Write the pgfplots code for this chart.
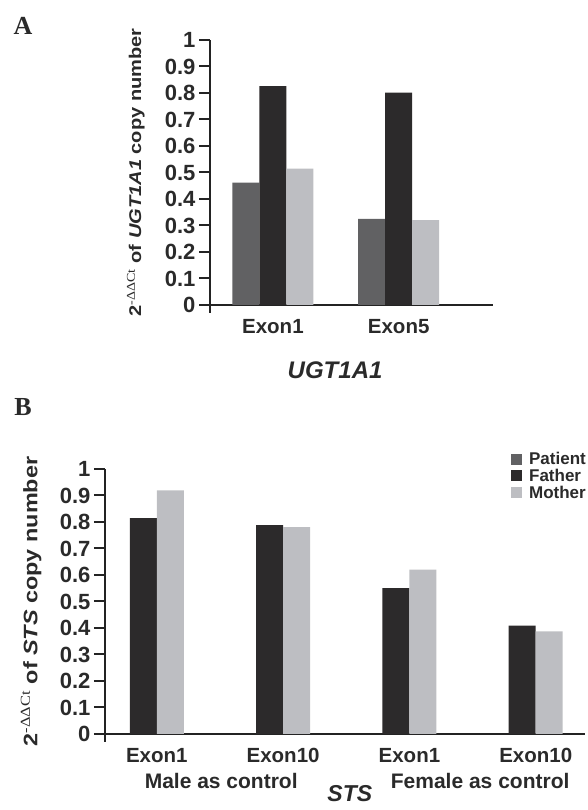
\documentclass[border=0pt]{standalone}
\usepackage{pgfplots}
\pgfplotsset{compat=1.18}
\usepackage{fontspec}
\setmainfont{Liberation Sans}
\newfontfamily\timesfont{Liberation Serif}

\definecolor{patient}{HTML}{616163}
\definecolor{father}{HTML}{2C2A2B}
\definecolor{mother}{HTML}{BDBEC2}
\definecolor{axiscol}{HTML}{232323}
\definecolor{textcol}{HTML}{2A2A2A}

\newcommand{\fs}[1]{\fontsize{#1}{#1}\selectfont}

\pgfplotsset{
  panel/.style={
    scale only axis,
    anchor=south west,
    height=265pt,
    ymin=0, ymax=1,
    ytick={0,0.1,0.2,0.3,0.4,0.5,0.6,0.7,0.8,0.9,1},
    axis x line=bottom, axis y line=left,
    axis line style={-, line width=2.5pt, draw=axiscol},
    y axis line style={shorten <=-8pt},
    tick align=outside,
    major tick length=11pt,
    ytick style={line width=2pt, draw=axiscol},
    xtick style={draw=none},
    /pgf/number format/assume math mode=true,
    yticklabel style={font=\bfseries\fs{22}, text=textcol},
    xticklabel style={font=\bfseries\fs{20.5}, text=textcol},
    ybar=0pt, bar width=27pt,
    clip=false,
  },
  sq/.style={draw=none, fill=#1,
    legend image code/.code={\path[fill=#1] (0pt,-5.5pt) rectangle (11pt,5.5pt);}},
}

\begin{document}
\begin{tikzpicture}
\path[use as bounding box] (0,0) rectangle (587pt,810pt);
\node[font=\timesfont\bfseries\fs{26}, text=textcol] at (23pt,784pt) {A};
\node[font=\timesfont\bfseries\fs{26}, text=textcol] at (23pt,403pt) {B};

% panel A: UGT1A1
\begin{axis}[panel,
  at={(210pt,505pt)}, width=283pt,
  xmin=0.5, xmax=2.75,
  xtick={1,2}, xticklabels={Exon1,Exon5},
  ylabel={\scalebox{1.18}[1]{2\textsuperscript{\timesfont\mdseries -ΔΔCt} of \textit{UGT1A1} copy number}},
  ylabel style={at={(axis description cs:-0.262,0.5)}, anchor=center, font=\bfseries\fs{17}, text=textcol},
  xlabel={\textit{UGT1A1}},
  xlabel style={at={(axis description cs:0.442,-0.245)}, anchor=center, font=\bfseries\fs{24}, text=textcol},
]
\addplot[sq=patient] coordinates {(1,0.462) (2,0.325)};
\addplot[sq=father]  coordinates {(1,0.826) (2,0.801)};
\addplot[sq=mother]  coordinates {(1,0.515) (2,0.320)};
\end{axis}

% panel B: STS
\begin{axis}[panel,
  at={(105pt,76pt)}, width=480pt,
  xmin=0.59, xmax=4.39,
  xtick={1,2,3,4}, xticklabels={Exon1,Exon10,Exon1,Exon10},
  ylabel={\scalebox{1.2}[1]{2\textsuperscript{\timesfont\mdseries -ΔΔCt} of \textit{STS} copy number}},
  ylabel style={at={(axis description cs:-0.154,0.5)}, anchor=center, font=\bfseries\fs{19.5}, text=textcol},
  xlabel={\textit{STS}},
  xlabel style={at={(axis description cs:0.51,-0.223)}, anchor=center, font=\bfseries\fs{23}, text=textcol},
  legend style={at={(axis description cs:1,1)}, anchor=north east, xshift=2pt, yshift=18pt,
    draw=none, fill=none, inner sep=0pt, row sep=1pt,
    font=\bfseries\fs{17}, text=textcol,
    nodes={inner sep=1pt},
    /tikz/every odd column/.append style={column sep=6pt}},
  legend cell align=left,
]
\addlegendimage{sq=patient}
\addlegendentry{Patient}
\addplot[sq=father] coordinates {(1,0.815) (2,0.788) (3,0.550) (4,0.409)};
\addlegendentry{Father}
\addplot[sq=mother] coordinates {(1,0.919) (2,0.781) (3,0.620) (4,0.387)};
\addlegendentry{Mother}
\node[font=\bfseries\fs{21}, text=textcol] at (axis cs:1.51,0) [yshift=-47pt] {Male as control};
\node[font=\bfseries\fs{21}, text=textcol] at (axis cs:3.56,0) [yshift=-47pt] {Female as control};
\end{axis}
\end{tikzpicture}
\end{document}
